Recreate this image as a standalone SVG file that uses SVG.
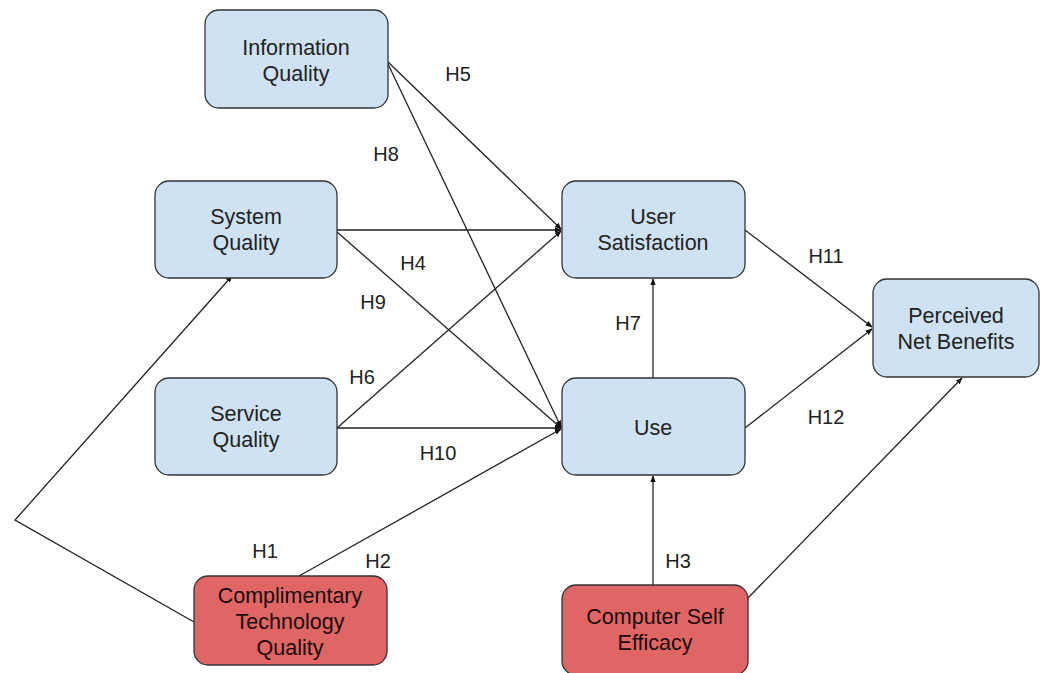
<svg xmlns="http://www.w3.org/2000/svg" width="1047" height="673" viewBox="0 0 1047 673">
<style>
.b{fill:#cfe2f3;stroke:#333;stroke-width:1.3}
.r{fill:#e06666;stroke:#333;stroke-width:1.3}
.t{font-family:"Liberation Sans",Arial,sans-serif;font-size:21.5px;fill:#222;text-anchor:middle;dominant-baseline:central}
.rt{fill:#1a0a0a}
.l{font-family:"Liberation Sans",Arial,sans-serif;font-size:20px;fill:#222;text-anchor:middle;dominant-baseline:central}
.c{stroke:#222;stroke-width:1.3;fill:none}
</style>
<defs>
<marker id="a" viewBox="0 0 10 10" refX="9" refY="5" markerWidth="7" markerHeight="7" orient="auto" markerUnits="userSpaceOnUse">
<path d="M0,1 L10,5 L0,9 z" fill="#111"/>
</marker>
</defs>
<rect width="1047" height="673" fill="#fff"/>
<g id="connectors">
<line class="c" x1="388" y1="62" x2="561" y2="229" marker-end="url(#a)"/>
<line class="c" x1="388" y1="64" x2="561" y2="427" marker-end="url(#a)"/>
<line class="c" x1="337" y1="230" x2="561" y2="230" marker-end="url(#a)"/>
<line class="c" x1="337" y1="232" x2="561" y2="428" marker-end="url(#a)"/>
<line class="c" x1="337" y1="428" x2="561" y2="231" marker-end="url(#a)"/>
<line class="c" x1="337" y1="428" x2="561" y2="428" marker-end="url(#a)"/>
<line class="c" x1="299" y1="576" x2="561" y2="429" marker-end="url(#a)"/>
<polyline class="c" points="194,622 15,520 232,276" marker-end="url(#a)"/>
<line class="c" x1="653" y1="378" x2="653" y2="279" marker-end="url(#a)"/>
<line class="c" x1="653" y1="585" x2="653" y2="476" marker-end="url(#a)"/>
<line class="c" x1="748" y1="598" x2="962" y2="378" marker-end="url(#a)"/>
<line class="c" x1="745" y1="230" x2="872" y2="327" marker-end="url(#a)"/>
<line class="c" x1="745" y1="428" x2="872" y2="329" marker-end="url(#a)"/>
</g>
<g id="labels">
<text class="l" x="458" y="74">H5</text>
<text class="l" x="386" y="154">H8</text>
<text class="l" x="413" y="263">H4</text>
<text class="l" x="373" y="302">H9</text>
<text class="l" x="362" y="377">H6</text>
<text class="l" x="438" y="453">H10</text>
<text class="l" x="265" y="551">H1</text>
<text class="l" x="378" y="561">H2</text>
<text class="l" x="678" y="561">H3</text>
<text class="l" x="628" y="323">H7</text>
<text class="l" x="826" y="256">H11</text>
<text class="l" x="826" y="417">H12</text>
</g>
<g id="info-quality">
<rect class="b" x="205" y="10" width="183" height="98" rx="14"/>
<text class="t" x="296" y="48">Information</text>
<text class="t" x="296" y="74">Quality</text>
</g>
<g id="system-quality">
<rect class="b" x="155" y="181" width="182" height="97" rx="14"/>
<text class="t" x="246" y="217">System</text>
<text class="t" x="246" y="243">Quality</text>
</g>
<g id="service-quality">
<rect class="b" x="155" y="378" width="182" height="97" rx="14"/>
<text class="t" x="246" y="414">Service</text>
<text class="t" x="246" y="440">Quality</text>
</g>
<g id="user-satisfaction">
<rect class="b" x="562" y="181" width="183" height="97" rx="14"/>
<text class="t" x="653" y="217">User</text>
<text class="t" x="653" y="243">Satisfaction</text>
</g>
<g id="use">
<rect class="b" x="562" y="378" width="183" height="97" rx="14"/>
<text class="t" x="653" y="428">Use</text>
</g>
<g id="perceived-net-benefits">
<rect class="b" x="873" y="279" width="166" height="98" rx="14"/>
<text class="t" x="956" y="316">Perceived</text>
<text class="t" x="956" y="342">Net Benefits</text>
</g>
<g id="complimentary-technology-quality">
<rect class="r" x="194" y="576" width="193" height="89" rx="14"/>
<text class="t rt" x="290" y="596">Complimentary</text>
<text class="t rt" x="290" y="622">Technology</text>
<text class="t rt" x="290" y="648">Quality</text>
</g>
<g id="computer-self-efficacy">
<rect class="r" x="562" y="585" width="186" height="90" rx="14"/>
<text class="t rt" x="655" y="617">Computer Self</text>
<text class="t rt" x="655" y="643">Efficacy</text>
</g>
</svg>
